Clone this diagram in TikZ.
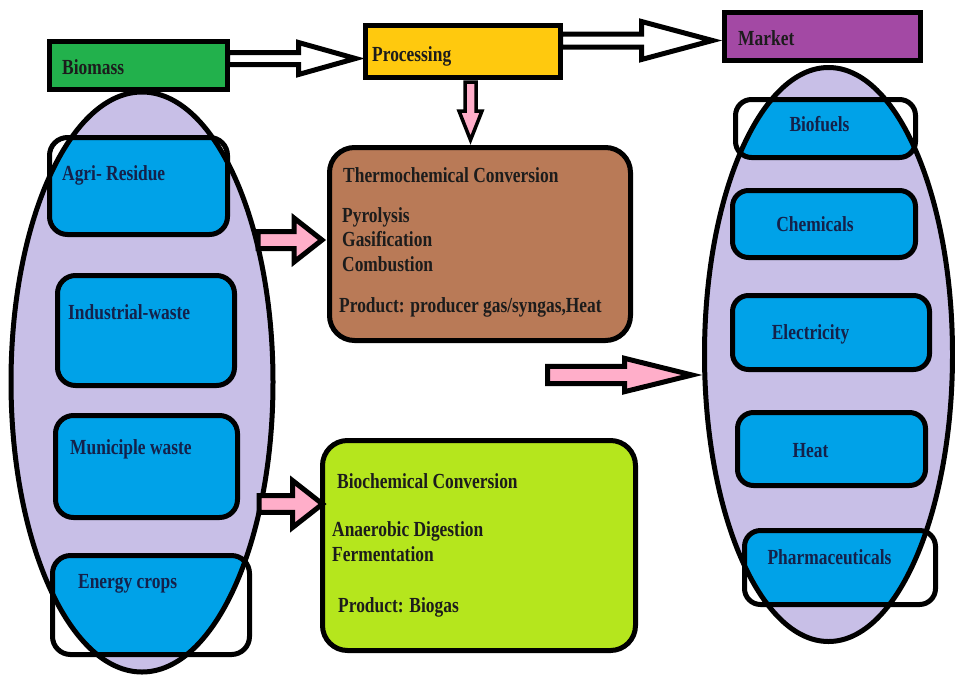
\documentclass[tikz,border=0pt]{standalone}
\usepackage{fontspec}
\setmainfont{Liberation Serif}[FakeStretch=0.81]
\usetikzlibrary{shapes.geometric,calc}
\definecolor{bmgreen}{HTML}{22B14C}
\definecolor{pyellow}{HTML}{FFC90E}
\definecolor{mpurple}{HTML}{A349A4}
\definecolor{tbrown}{HTML}{B97A57}
\definecolor{blime}{HTML}{B5E61D}
\definecolor{pblue}{HTML}{00A2E8}
\definecolor{lav}{HTML}{C8BFE7}
\definecolor{apink}{HTML}{FFAEC9}
\definecolor{txt}{HTML}{1C1C1C}
\definecolor{navy}{HTML}{14214A}
\newcommand\fatarrow[6]{%
  \coordinate (fa-h) at ($(#3)!#6!(#2)$);
  \draw[#1] ($(#2)!#4!90:(#3)$) -- ($(fa-h)!#4!-90:(#2)$) -- ($(fa-h)!#5!-90:(#2)$)
    -- (#3) -- ($(fa-h)!#5!90:(#2)$) -- ($(fa-h)!#4!90:(#2)$) -- ($(#2)!#4!-90:(#3)$) -- cycle;}
\begin{document}
\begin{tikzpicture}[x=1pt,y=-1pt,
  boxbase/.style={rectangle, inner sep=0pt, outer sep=0pt, line width=5pt},
  ellbase/.style={ellipse, inner sep=0pt, outer sep=0pt},
  lbl/.style={inner sep=0pt, font=\bfseries\fontsize{21.5}{21.5}\selectfont, text=txt},
  blbl/.style={lbl, text=navy},
  hollow/.style={draw=black, fill=white, line width=5pt, line join=miter},
  pinkarr/.style={draw=black, fill=apink, line width=5pt, line join=miter},
  outl/.style={draw=black, line width=5pt},
  ellout/.style={draw=black, line width=5pt}]
\useasboundingbox (0,0) rectangle (955,678);

% top boxes
\node[boxbase, draw, fill=bmgreen, minimum width=178pt, minimum height=48pt] (biomass) at (138.5,65.5) {};
\node[boxbase, draw, fill=pyellow, minimum width=195pt, minimum height=52pt] (processing) at (463,51.5) {};
\node[boxbase, draw, fill=mpurple, minimum width=196pt, minimum height=48pt] (market) at (822.5,36.5) {};

% left ellipse group
\node[ellbase, fill=lav, minimum width=262pt, minimum height=580pt] (lell) at (142,382) {};
\begin{scope}
\clip (lell.center) ellipse [x radius=131pt, y radius=290pt];
\node[boxbase, fill=pblue, rounded corners=18pt, minimum width=178pt, minimum height=97pt] (agri) at (138.5,186) {};
\node[boxbase, fill=pblue, rounded corners=18pt, minimum width=177pt, minimum height=110pt] (indus) at (146,330.5) {};
\node[boxbase, fill=pblue, rounded corners=18pt, minimum width=182pt, minimum height=102pt] (munic) at (146.5,466.5) {};
\node[boxbase, fill=pblue, rounded corners=18pt, minimum width=197pt, minimum height=99pt] (energy) at (151,605) {};
\end{scope}
\foreach \b in {agri,indus,munic,energy}
  \draw[outl, rounded corners=18pt] (\b.south west) rectangle (\b.north east);
\draw[ellout] (lell.center) ellipse [x radius=131pt, y radius=290pt];

% right ellipse group
\node[ellbase, fill=lav, minimum width=248pt, minimum height=574pt] (rell) at (828.5,354.5) {};
\begin{scope}
\clip (rell.center) ellipse [x radius=124pt, y radius=287pt];
\node[boxbase, fill=pblue, rounded corners=16pt, minimum width=180pt, minimum height=58pt] (biofuels) at (825.5,128.5) {};
\node[boxbase, fill=pblue, rounded corners=16pt, minimum width=183pt, minimum height=67pt] (chem) at (824,224) {};
\node[boxbase, fill=pblue, rounded corners=16pt, minimum width=197pt, minimum height=74pt] (elec) at (831,332.5) {};
\node[boxbase, fill=pblue, rounded corners=16pt, minimum width=188pt, minimum height=73pt] (heat) at (831.5,449) {};
\node[boxbase, fill=pblue, rounded corners=16pt, minimum width=191pt, minimum height=74pt] (pharma) at (840,567.5) {};
\end{scope}
\foreach \b in {biofuels,chem,elec,heat,pharma}
  \draw[outl, rounded corners=16pt] (\b.south west) rectangle (\b.north east);
\draw[ellout] (rell.center) ellipse [x radius=124pt, y radius=287pt];

% conversion boxes
\node[boxbase, draw, fill=tbrown, rounded corners=25pt, minimum width=301pt, minimum height=193pt] (thermo) at (480,244) {};
\node[boxbase, draw, fill=blime, rounded corners=25pt, minimum width=313pt, minimum height=210pt] (bio) at (479,545.5) {};

% hollow arrows
\coordinate (h1s) at ($(biomass.east)+(0,-7)$);
\coordinate (h1e) at ($(processing.west |- h1s)+(-10,0)$);
\fatarrow{hollow}{h1s}{h1e}{6pt}{16pt}{57pt}
\coordinate (h2s) at ($(processing.east)+(0,-11)$);
\coordinate (h2e) at ($(market.west |- h2s)+(-12,0)$);
\fatarrow{hollow}{h2s}{h2e}{6.5pt}{19pt}{71pt}

% pink arrows
\coordinate (d1s) at ($(processing.south)+(7.5,4.5)$);
\coordinate (d1e) at ($(thermo.north -| d1s)+(0,-7.5)$);
\fatarrow{pinkarr, line width=3.5pt}{d1s}{d1e}{5.5pt}{11.5pt}{29pt}
\coordinate (p1s) at (258,240);
\coordinate (p1e) at ($(thermo.west |- p1s)+(-7.5,0)$);
\fatarrow{pinkarr}{p1s}{p1e}{8.5pt}{22pt}{28pt}
\coordinate (p2s) at (259,504);
\coordinate (p2e) at (bio.west |- p2s);
\fatarrow{pinkarr}{p2s}{p2e}{8.3pt}{23.5pt}{30pt}
\coordinate (p3s) at (547.5,375);
\coordinate (p3e) at ($(rell.west |- p3s)+(-12.5,0)$);
\fatarrow{pinkarr}{p3s}{p3e}{8.7pt}{16.7pt}{67.5pt}

% labels
\node[lbl, anchor=base west] (tbiomass) at (62,74) {Biomass};
\node[lbl, anchor=base west] (tproc) at (372,61) {Processing};
\node[lbl, anchor=base west] (tmarket) at (738,45) {Market};

\node[blbl, anchor=base west] (tagri) at (62,180) {Agri- Residue};
\node[blbl, anchor=base west] (tindus) at (68,319) {Industrial-waste};
\node[blbl, anchor=base west] (tmunic) at (70,454) {Municiple waste};
\node[blbl, anchor=base west] (tenergy) at (78,588) {Energy crops};

\node[blbl, anchor=base] (tbiofuels) at (819.5,131) {Biofuels};
\node[blbl, anchor=base] (tchem) at (815,231) {Chemicals};
\node[blbl, anchor=base] (telec) at (810.5,339) {Electricity};
\node[blbl, anchor=base] (theat) at (810.5,457) {Heat};
\node[blbl, anchor=base] (tpharma) at (829.5,564) {Pharmaceuticals};

\node[lbl, anchor=base west] (tthermo) at (343,182) {Thermochemical Conversion};
\node[lbl, anchor=base west] (tpyro) at (342,222) {Pyrolysis};
\node[lbl, anchor=base west] (tgasi) at (342,246) {Gasification};
\node[lbl, anchor=base west] (tcomb) at (342,271) {Combustion};
\node[lbl, anchor=base west] (tprod1) at (339,312) {Product: producer gas/syngas,Heat};

\node[lbl, anchor=base west] (tbioc) at (337,488) {Biochemical Conversion};
\node[lbl, anchor=base west] (tanae) at (332,536) {Anaerobic Digestion};
\node[lbl, anchor=base west] (tferm) at (332,561) {Fermentation};
\node[lbl, anchor=base west] (tprod2) at (338,612) {Product: Biogas};
\end{tikzpicture}
\end{document}
